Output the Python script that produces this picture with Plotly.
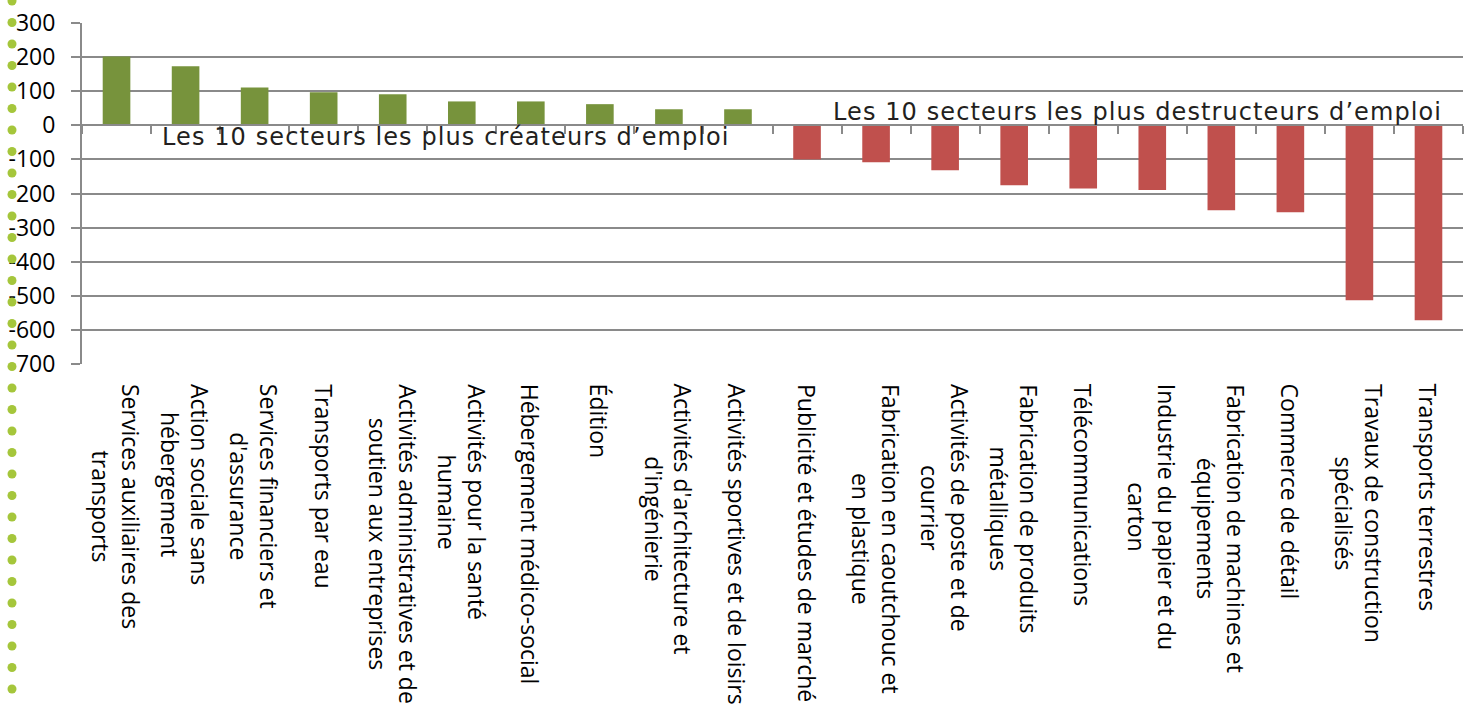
import plotly.graph_objects as go

# secteurs (10 plus créateurs puis 10 plus destructeurs d'emploi)
secteurs = [
    "Services auxiliaires des<br>transports",
    "Action sociale sans<br>hébergement",
    "Services financiers et<br>d'assurance",
    "Transports par eau",
    "Activités administratives et de<br>soutien aux entreprises",
    "Activités pour la santé<br>humaine",
    "Hébergement médico-social",
    "Édition",
    "Activités d'architecture et<br>d'ingénierie",
    "Activités sportives et de loisirs",
    "Publicité et études de marché",
    "Fabrication en caoutchouc et<br>en plastique",
    "Activités de poste et de<br>courrier",
    "Fabrication de produits<br>métalliques",
    "Télécommunications",
    "Industrie du papier et du<br>carton",
    "Fabrication de machines et<br>équipements",
    "Commerce de détail",
    "Travaux de construction<br>spécialisés",
    "Transports terrestres",
]
emplois = [202, 173, 111, 97, 91, 70, 70, 62, 47, 47,
           -100, -108, -132, -176, -185, -190, -249, -255, -513, -572]

y_ticks = list(range(-700, 301, 100))

W, H = 1472, 706
GREEN = "#77933C"
RED = "#C0504D"
GRID = "#8A8A8A"

# plot area in pixels (margins set to 0, paper == figure)
left, right, top, bottom = 82, 1463, 23, 364
ydom = [1 - bottom / H, 1 - top / H]
zero_pos = ydom[0] + (0 - y_ticks[0]) / (y_ticks[-1] - y_ticks[0]) * (ydom[1] - ydom[0])

colors = [GREEN if v >= 0 else RED for v in emplois]

fig = go.Figure()
fig.add_trace(go.Bar(
    x=secteurs,
    y=emplois,
    marker=dict(color=colors, line=dict(width=0)),
    hoverinfo='x+y',
))

# category labels, rotated, centred like the original
for s in secteurs:
    fig.add_annotation(
        x=s, xref='x', y=1 - 382 / H, yref='paper',
        text=s, textangle=90, showarrow=False,
        xanchor='center', yanchor='top', align='center',
        font=dict(family='Open Sans', size=23, color='black'),
    )

note_style = '<span style="letter-spacing:1.1px">{}</span>'
fig.add_annotation(
    text=note_style.format("Les 10 secteurs les plus créateurs d’emploi"),
    xref='paper', yref='paper', x=160 / W, y=1 - 137 / H,
    xanchor='left', yanchor='middle', showarrow=False,
    font=dict(family='DejaVu Sans', size=24, color='#231F20'),
)
fig.add_annotation(
    text=note_style.format("Les 10 secteurs les plus destructeurs d’emploi"),
    xref='paper', yref='paper', x=831 / W, y=1 - 112 / H,
    xanchor='left', yanchor='middle', showarrow=False,
    font=dict(family='DejaVu Sans', size=24, color='#231F20'),
)

# green dotted decoration on the left edge
shapes = []
for k in range(34):
    cy = 1 + 21.5 * k
    shapes.append(dict(
        type='circle', xref='paper', yref='paper', layer='above',
        x0=7.5 / W, x1=16.5 / W, y0=1 - (cy + 4.5) / H, y1=1 - (cy - 4.5) / H,
        fillcolor='#A5C63B', line=dict(width=0),
    ))

fig.update_layout(
    width=W, height=H,
    margin=dict(l=0, r=0, t=0, b=0, autoexpand=False),
    plot_bgcolor='white', paper_bgcolor='white',
    showlegend=False,
    bargap=0.6,
    shapes=shapes,
    xaxis=dict(
        domain=[left / W, right / W],
        anchor='free', position=zero_pos,
        type='category',
        showticklabels=False,
        showline=True, linecolor=GRID, linewidth=2,
        ticks='outside', tickson='boundaries', ticklen=8, tickwidth=2, tickcolor=GRID,
        showgrid=False, automargin=False,
    ),
    yaxis=dict(
        domain=ydom,
        range=[y_ticks[0], y_ticks[-1]],
        tickvals=y_ticks,
        ticktext=[str(v) for v in y_ticks],
        showgrid=True, gridcolor=GRID, gridwidth=2,
        zeroline=False,
        showline=True, linecolor=GRID, linewidth=2,
        ticks='outside', ticklen=9, tickwidth=2, tickcolor=GRID,
        ticklabelstandoff=11, automargin=False,
        tickfont=dict(family='Open Sans', size=23, color='black'),
    ),
)

fig.write_html("out.html", config={'displayModeBar': False},
               post_script="document.body.style.margin='0';")
